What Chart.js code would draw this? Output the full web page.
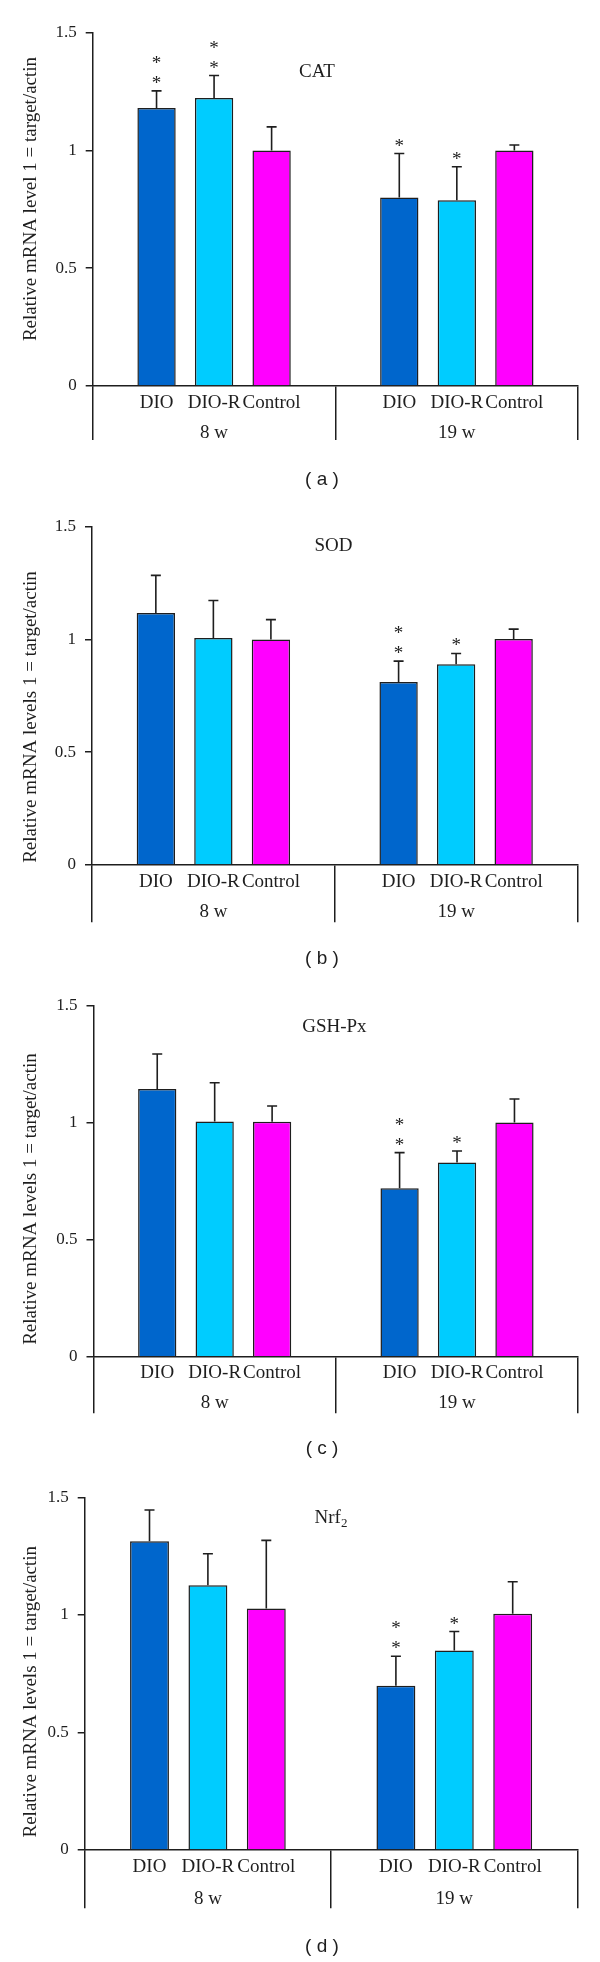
<!DOCTYPE html>
<html>
<head>
<meta charset="utf-8">
<script src="https://cdn.jsdelivr.net/npm/chart.js"></script>
<style>
body{margin:0;background:#fff;}
#wrap{position:relative;width:600px;height:1962px;overflow:hidden;}
canvas{position:absolute;left:0;}
</style>
</head>
<body>
<div id="wrap">
<canvas id="c0" width="600" height="490" style="top:0px"></canvas>
<canvas id="c1" width="600" height="480" style="top:490px"></canvas>
<canvas id="c2" width="600" height="490" style="top:970px"></canvas>
<canvas id="c3" width="600" height="502" style="top:1460px"></canvas>
</div>
<script>
// groups on the x axis and the three bars in each group
const groups = ['8 w', '19 w'];
const series = ['DIO', 'DIO-R', 'Control'];
const barColors = ['#0066cc', '#00ccff', '#ff00ff'];
const ink = '#1e1e1e';

// order: 8 w DIO, DIO-R, Control, then 19 w DIO, DIO-R, Control
const catMean = [1.18, 1.223, 1.00, 0.80, 0.789, 1.00];
const catSD   = [0.073, 0.095, 0.10, 0.187, 0.142, 0.023];
const catSig  = ['**', '**', '', '*', '*', ''];

const sodMean = [1.117, 1.006, 1.00, 0.811, 0.89, 1.002];
const sodSD   = [0.167, 0.167, 0.088, 0.093, 0.048, 0.044];
const sodSig  = ['', '', '', '**', '*', ''];

const gshMean = [1.145, 1.006, 1.005, 0.72, 0.831, 1.002];
const gshSD   = [0.15, 0.166, 0.067, 0.153, 0.049, 0.10];
const gshSig  = ['', '', '', '**', '*', ''];

const nrfMean = [1.313, 1.126, 1.027, 0.699, 0.848, 1.005];
const nrfSD   = [0.133, 0.134, 0.29, 0.125, 0.081, 0.136];
const nrfSig  = ['', '', '', '**', '*', ''];

const yTicks = [0, 0.5, 1, 1.5];
const yTickLabels = ['0', '0.5', '1', '1.5'];

// page layout of the four panels (pixels on the page)
const panels = [
  {id: 'c0', top: 0, h: 490, left: 92.7, right: 578.2, yTop: 32.7, yZero: 386, divBottom: 440,
   rowY: 403, groupY: 433, capY: 480, titleX: 317, titleY: 72.3, yTitleY: 199,
   title: 'CAT', sub: '', ylab: 'Relative mRNA level 1 = target/actin', cap: '( a )',
   mean: catMean, sd: catSD, sig: catSig},
  {id: 'c1', top: 490, h: 480, left: 92, right: 577.5, yTop: 526.7, yZero: 865, divBottom: 922.3,
   rowY: 882.3, groupY: 911.7, capY: 958.3, titleX: 333.5, titleY: 545.7, yTitleY: 717,
   title: 'SOD', sub: '', ylab: 'Relative mRNA levels 1 = target/actin', cap: '( b )',
   mean: sodMean, sd: sodSD, sig: sodSig},
  {id: 'c2', top: 970, h: 490, left: 93.5, right: 578.2, yTop: 1006, yZero: 1356.7, divBottom: 1413.3,
   rowY: 1373.3, groupY: 1403.3, capY: 1448.3, titleX: 334.4, titleY: 1026.7, yTitleY: 1199,
   title: 'GSH-Px', sub: '', ylab: 'Relative mRNA levels 1 = target/actin', cap: '( c )',
   mean: gshMean, sd: gshSD, sig: gshSig},
  {id: 'c3', top: 1460, h: 502, left: 84.7, right: 577.5, yTop: 1497.3, yZero: 1850, divBottom: 1908.3,
   rowY: 1866.7, groupY: 1899.3, capY: 1946.7, titleX: 331, titleY: 1518, yTitleY: 1691.7,
   title: 'Nrf', sub: '2', ylab: 'Relative mRNA levels 1 = target/actin', cap: '( d )',
   mean: nrfMean, sd: nrfSD, sig: nrfSig}
];

const serif = '"Liberation Serif", "Times New Roman", serif';

// error bars, stars, bar names, titles and captions
const extras = {
  id: 'extras',
  afterDatasetsDraw(chart, args, opts) {
    const p = opts.panel;
    const ctx = chart.ctx;
    const ys = chart.scales.y;
    const off = p.top;
    ctx.save();
    ctx.strokeStyle = ink;
    ctx.fillStyle = ink;
    ctx.lineWidth = 1.6;
    ctx.textAlign = 'center';
    for (let s = 0; s < series.length; s++) {
      const meta = chart.getDatasetMeta(s);
      meta.data.forEach(function(bar, g) {
        const i = g * 3 + s;
        const yErr = ys.getPixelForValue(p.mean[i] + p.sd[i]);
        ctx.beginPath();
        ctx.moveTo(bar.x, bar.y);
        ctx.lineTo(bar.x, yErr);
        ctx.moveTo(bar.x - 5, yErr);
        ctx.lineTo(bar.x + 5, yErr);
        ctx.stroke();

        ctx.font = '19px ' + serif;
        ctx.textBaseline = 'alphabetic';
        for (let k = 0; k < p.sig[i].length; k++) {
          ctx.fillText('*', bar.x, yErr - 13 - 20 * k + 11);
        }
        ctx.textBaseline = 'middle';
        ctx.fillText(series[s], bar.x, p.rowY - off);
      });
    }

    // chart title inside plot
    ctx.font = '19px ' + serif;
    ctx.textBaseline = 'middle';
    if (p.sub) {
      const w1 = ctx.measureText(p.title).width;
      ctx.font = '13px ' + serif;
      const w2 = ctx.measureText(p.sub).width;
      const x0 = p.titleX - (w1 + w2) / 2;
      ctx.textAlign = 'left';
      ctx.font = '19px ' + serif;
      ctx.fillText(p.title, x0, p.titleY - off);
      ctx.font = '13px ' + serif;
      ctx.fillText(p.sub, x0 + w1, p.titleY - off + 6);
    } else {
      ctx.fillText(p.title, p.titleX, p.titleY - off);
    }

    // y axis title
    ctx.save();
    ctx.translate(31.3, p.yTitleY - off);
    ctx.rotate(-Math.PI / 2);
    ctx.textAlign = 'center';
    ctx.font = '19px ' + serif;
    ctx.fillText(p.ylab, 0, 0);
    ctx.restore();

    // panel caption
    ctx.textAlign = 'center';
    ctx.font = '19px "Liberation Sans", Arial, sans-serif';
    ctx.fillText(p.cap, 322, p.capY - off);
    ctx.restore();
  }
};

panels.forEach(function(p) {
  const datasets = series.map(function(name, s) {
    return {
      label: name,
      data: [p.mean[s], p.mean[3 + s]],
      backgroundColor: barColors[s],
      borderColor: ink,
      borderWidth: 1.5,
      categoryPercentage: 0.711,
      barPercentage: 0.666
    };
  });

  const tickLen = p.divBottom - p.yZero;
  const lineH = 19 * 1.2;

  new Chart(document.getElementById(p.id), {
    type: 'bar',
    data: {labels: groups, datasets: datasets},
    plugins: [extras],
    options: {
      responsive: false,
      animation: false,
      devicePixelRatio: 1,
      layout: {padding: {top: p.yTop - p.top, right: 600 - p.right, left: 0, bottom: 0}},
      plugins: {
        legend: {display: false},
        tooltip: {enabled: false},
        extras: {panel: p}
      },
      scales: {
        x: {
          grid: {offset: true, drawOnChartArea: false, drawTicks: true, tickLength: tickLen, color: ink, lineWidth: 1.5},
          border: {display: true, color: ink, width: 1.5},
          ticks: {
            color: ink,
            font: {family: serif, size: 19},
            padding: p.groupY - p.divBottom - lineH / 2,
            maxRotation: 0,
            autoSkip: false
          },
          afterFit: function(scale) { scale.height = p.h - (p.yZero - p.top); }
        },
        y: {
          min: 0,
          max: 1.5,
          afterBuildTicks: function(scale) { scale.ticks = yTicks.map(function(v) { return {value: v}; }); },
          grid: {drawOnChartArea: false, tickLength: 7, color: ink, lineWidth: 1.5},
          border: {display: true, color: ink, width: 1.5},
          ticks: {
            color: ink,
            font: {family: serif, size: 17},
            padding: 9,
            callback: function(v) { return yTickLabels[yTicks.indexOf(v)]; }
          },
          afterFit: function(scale) { scale.width = p.left; }
        }
      }
    }
  });
});
</script>
</body>
</html>
